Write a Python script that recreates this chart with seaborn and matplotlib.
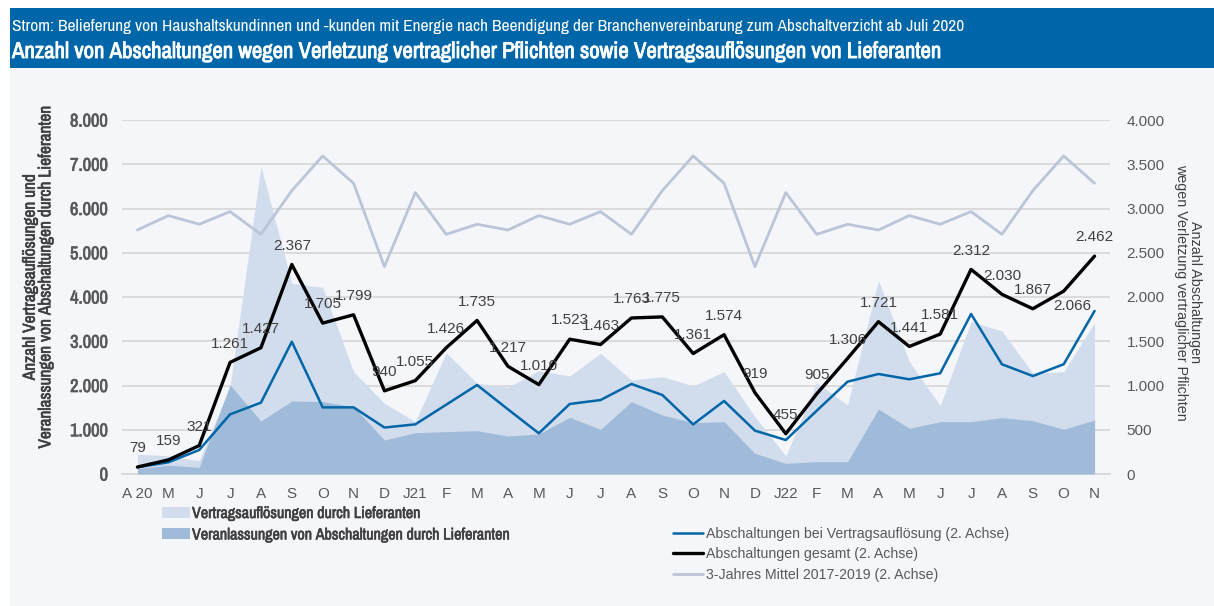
import matplotlib
matplotlib.use("Agg")
import matplotlib.pyplot as plt
import seaborn as sns
import pandas as pd
import numpy as np
from matplotlib import font_manager
from matplotlib import patheffects as pe
from matplotlib.patches import Rectangle, Patch
from matplotlib.lines import Line2D
from matplotlib.ticker import FixedLocator, FuncFormatter

# ---------------- data ----------------
months = ["A 20", "M", "J", "J", "A", "S", "O", "N", "D", "J21", "F", "M", "A", "M", "J", "J",
          "A", "S", "O", "N", "D", "J22", "F", "M", "A", "M", "J", "J", "A", "S", "O", "N"]

# left axis (areas)
vertragsaufloesungen = [450, 410, 300, 1980, 6950, 4310, 4219, 2312, 1597, 1183, 2742, 2049, 1959, 2335, 2215, 2727,
                        2124, 2200, 1989, 2312, 1296, 407, 2064, 1559, 4370, 2539, 1545, 3443, 3232, 2275, 2313, 3420]
veranlassungen = [120, 200, 150, 2011, 1198, 1650, 1635, 1522, 768, 934, 957, 980, 859, 904, 1281, 1010,
                  1635, 1333, 1160, 1183, 467, 241, 279, 279, 1469, 1032, 1183, 1183, 1273, 1205, 1010, 1220]

# right axis (lines)
abschalt_aufl = [76, 132, 271, 674, 806, 1495, 753, 753, 525, 561, 783, 1006, 731, 460, 791, 836,
                 1017, 893, 561, 825, 490, 384, 715, 1043, 1130, 1070, 1138, 1808, 1240, 1107, 1240, 1842]
abschalt_gesamt = [79, 159, 321, 1261, 1427, 2367, 1705, 1799, 940, 1055, 1426, 1735, 1217, 1010, 1523, 1463,
                   1763, 1775, 1361, 1574, 919, 455, 905, 1306, 1721, 1441, 1581, 2312, 2030, 1867, 2066, 2462]
mittel_3j = [2757, 2920, 2822, 2965, 2708, 3202, 3594, 3285, 2343, 3180, 2708, 2822, 2757, 2920, 2822, 2965,
             2708, 3202, 3594, 3285, 2343, 3180, 2708, 2822, 2757, 2920, 2822, 2965, 2708, 3202, 3594, 3285]

left_ticks = [0, 1000, 2000, 3000, 4000, 5000, 6000, 7000, 8000]
right_ticks = [0, 500, 1000, 1500, 2000, 2500, 3000, 3500, 4000]

subtitle = ("Strom: Belieferung von Haushaltskundinnen und -kunden mit Energie nach Beendigung der "
            "Branchenvereinbarung zum Abschaltverzicht ab Juli 2020")
title = ("Anzahl von Abschaltungen wegen Verletzung vertraglicher Pflichten sowie "
         "Vertragsauflösungen von Lieferanten")
ylab_left = "Anzahl Vertragsauflösungen und\nVeranlassungen von Abschaltungen durch Lieferanten"
ylab_right = "Anzahl Abschaltungen\nwegen Verletzung vertraglicher Pflichten"
leg_area_labels = ["Vertragsauflösungen durch Lieferanten", "Veranlassungen von Abschaltungen durch Lieferanten"]
leg_line_labels = ["Abschaltungen bei Vertragsauflösung (2. Achse)", "Abschaltungen gesamt (2. Achse)",
                   "3-Jahres Mittel 2017-2019 (2. Achse)"]

# ---------------- style ----------------
sns.set_theme(style="white")


def _w(f):
    w = f.weight
    if isinstance(w, str):
        return {"bold": 700, "semibold": 600, "demibold": 600, "heavy": 800, "black": 900,
                "extra bold": 800, "normal": 400, "regular": 400, "medium": 500}.get(w, 400)
    return int(w)


def find_narrow():
    fl = font_manager.fontManager.ttflist
    for f in fl:
        if "Narrow" in f.name or "Condensed" in f.name:
            name = f.name
            has_bold = any(_w(g) >= 600 for g in fl if g.name == name)
            return name, "normal", has_bold
    for f in fl:
        if str(f.stretch) in ("condensed", "semi-condensed", "extra-condensed"):
            name = f.name
            has_bold = any(_w(g) >= 600 and str(g.stretch) == str(f.stretch) for g in fl if g.name == name)
            return name, f.stretch, has_bold
    return "DejaVu Sans", "normal", True


names = {f.name for f in font_manager.fontManager.ttflist}
NARROW, NSTRETCH, HAS_BOLD = find_narrow()
REG = "Liberation Sans" if "Liberation Sans" in names else "DejaVu Sans"
plt.rcParams["font.family"] = [REG, "DejaVu Sans"]
BW = "bold" if HAS_BOLD else "normal"


def fake_bold(color, lw=0.45):
    return [] if HAS_BOLD else [pe.withStroke(linewidth=lw, foreground=color)]


C_LIGHT = "#D1DDED"
C_DARK = "#A0BBD9"
C_BLUE = "#0066A8"
C_GREY = "#BAC5D8"
C_BG = "#F4F6FA"
C_HEAD = "#0066AA"
C_TXT = "#404040"
C_TICK = "#595959"
C_GRID = "#D9D9D9"

W, H = 1214, 606
fig = plt.figure(figsize=(W / 100, H / 100), dpi=100)
fig.patch.set_facecolor("white")
renderer = fig.canvas.get_renderer()


def fit_size(text, target_px, family, weight="normal", stretch="normal", base=12.0):
    t = fig.text(0, 0, text, family=family, fontweight=weight, fontstretch=stretch, fontsize=base)
    bb = t.get_window_extent(renderer)
    t.remove()
    return base * target_px / bb.width


fig.patches.append(Rectangle((10 / W, 0), 1 - 10 / W, 1 - 68 / H, transform=fig.transFigure,
                             facecolor=C_BG, edgecolor="none", zorder=-10))
fig.patches.append(Rectangle((10 / W, 1 - 68 / H), 1 - 10 / W, 60 / H, transform=fig.transFigure,
                             facecolor=C_HEAD, edgecolor="none", zorder=-10))

s_sub = min(12.5, fit_size(subtitle, 962, NARROW, stretch=NSTRETCH))
s_tit = min(16.4, fit_size(title, 940, NARROW, BW, NSTRETCH))
fig.text(12 / W, 1 - 26 / H, subtitle, color="white", fontsize=s_sub, family=NARROW, fontstretch=NSTRETCH,
         va="center", ha="left")
fig.text(12 / W, 1 - 52 / H, title, color="white", fontsize=s_tit, family=NARROW, fontstretch=NSTRETCH,
         fontweight=BW, va="center", ha="left", path_effects=fake_bold("white", 0.6))

ax = fig.add_axes([122 / W, 1 - 474 / H, (1110 - 122) / W, (474 - 120) / H])
ax.set_facecolor("none")

x = np.arange(len(months))
df = pd.DataFrame({"x": x, "aufl": abschalt_aufl, "ges": abschalt_gesamt, "mit": mittel_3j})

ax.fill_between(x, vertragsaufloesungen, color=C_LIGHT, lw=0, zorder=2)
ax.fill_between(x, veranlassungen, color=C_DARK, lw=0, zorder=3)
ax.set_ylim(0, 8000)
ax.set_xlim(-0.5, len(months) - 0.5)
ax.yaxis.set_major_locator(FixedLocator(left_ticks))
fmt = FuncFormatter(lambda v, p: f"{int(v):,}".replace(",", "."))
ax.yaxis.set_major_formatter(fmt)
ax.grid(axis="y", color=C_GRID, lw=1.3)
ax.set_axisbelow(True)
for s in ["left", "right", "top"]:
    ax.spines[s].set_visible(False)
ax.spines["bottom"].set_color(C_GRID)
ax.spines["bottom"].set_linewidth(1.3)
ax.set_xticks(x)
ax.set_xticklabels(months)
ax.set_xticks(np.arange(-0.5, len(months), 1.0), minor=True)
ax.tick_params(axis="x", which="major", length=0, pad=9, labelsize=11, labelcolor=C_TICK)
ax.tick_params(axis="x", which="minor", length=5, width=1.2, color=C_GRID, direction="out")
s_yt = min(14, fit_size("8.000", 38, NARROW, BW, NSTRETCH))
ax.tick_params(axis="y", length=0, pad=10, labelsize=s_yt, labelcolor=C_TICK)
for t in ax.get_yticklabels():
    t.set_fontweight(BW)
    t.set_family(NARROW)
    t.set_fontstretch(NSTRETCH)
    t.set_path_effects(fake_bold(C_TICK, 0.5))
ax.set_xlabel("")
ax.set_ylabel("")

ax2 = ax.twinx()
ax2.set_facecolor("none")
sns.lineplot(data=df, x="x", y="mit", ax=ax2, color=C_GREY, lw=2.0, zorder=4)
sns.lineplot(data=df, x="x", y="aufl", ax=ax2, color=C_BLUE, lw=1.8, zorder=5)
sns.lineplot(data=df, x="x", y="ges", ax=ax2, color="black", lw=2.4, zorder=6)
ax2.set_ylim(0, 4000)
ax2.set_xlim(-0.5, len(months) - 0.5)
ax2.yaxis.set_major_locator(FixedLocator(right_ticks))
ax2.yaxis.set_major_formatter(fmt)
s_rt = fit_size("4.000", 38, REG)
ax2.tick_params(axis="y", length=0, pad=12, labelsize=s_rt, labelcolor=C_TICK)
for s in ["left", "right", "top", "bottom"]:
    ax2.spines[s].set_visible(False)
ax2.set_xlabel("")
ax2.set_ylabel("")

s_dl = fit_size("2.367", 38, REG)
for i, v in enumerate(abschalt_gesamt):
    lab = f"{v:,}".replace(",", ".")
    off = (0, 13.5)
    if i == 30:
        off = (6.5, -11)
    ax2.annotate(lab, (i, v), xytext=off, textcoords="offset points", ha="center", va="center",
                 fontsize=s_dl, color=C_TXT, zorder=7)

s_yl = min(13, fit_size(ylab_left.split("\n")[1], 343, NARROW, BW, NSTRETCH))
fig.text(38 / W, 1 - 277 / H, ylab_left,
         rotation=90, ha="center", va="center", multialignment="center", family=NARROW,
         fontstretch=NSTRETCH, fontweight=BW, fontsize=s_yl, color=C_TXT, linespacing=1.05,
         path_effects=fake_bold(C_TXT, 0.45))
s_yr = fit_size(ylab_right.split("\n")[1], 255, REG)
fig.text(1188 / W, 1 - 292 / H, ylab_right,
         rotation=270, ha="center", va="center", multialignment="center", fontsize=s_yr,
         color=C_TXT, linespacing=1.05)

s_l1 = min(13, fit_size(leg_area_labels[1], 318, NARROW, BW, NSTRETCH))
h1 = [Patch(facecolor=C_LIGHT, edgecolor="none"), Patch(facecolor=C_DARK, edgecolor="none")]
leg1 = fig.legend(h1, leg_area_labels, loc="upper left", bbox_to_anchor=(162 / W, 1 - 506 / H), frameon=False,
                  borderpad=0, borderaxespad=0, handlelength=28 / (s_l1 * 100 / 72), handleheight=0.7,
                  handletextpad=2 / (s_l1 * 100 / 72),
                  labelspacing=0.4, prop={"family": NARROW, "weight": BW, "size": s_l1,
                                          "stretch": NSTRETCH})
for t in leg1.get_texts():
    t.set_color(C_TXT)
    t.set_path_effects(fake_bold(C_TXT, 0.45))

s_l2 = fit_size(leg_line_labels[0], 303, REG)
h2 = [Line2D([], [], color=C_BLUE, lw=1.8), Line2D([], [], color="black", lw=2.4),
      Line2D([], [], color=C_GREY, lw=2.0)]
leg2 = fig.legend(h2, leg_line_labels, loc="upper left", bbox_to_anchor=(673 / W, 1 - 527 / H), frameon=False,
                  borderpad=0, borderaxespad=0, handlelength=30 / (s_l2 * 100 / 72),
                  handletextpad=3 / (s_l2 * 100 / 72),
                  labelspacing=0.45, prop={"family": REG, "size": s_l2})
for t in leg2.get_texts():
    t.set_color(C_TICK)

fig.savefig("out.png", dpi=100, facecolor=fig.get_facecolor())
